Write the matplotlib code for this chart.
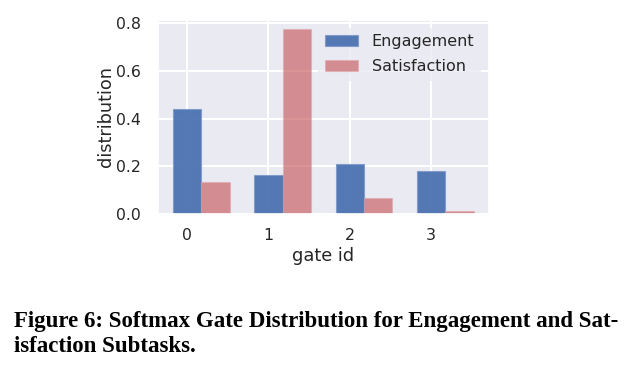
import matplotlib
matplotlib.use("Agg")
import matplotlib.pyplot as plt
import seaborn as sns
import numpy as np

gate_ids = [0, 1, 2, 3]
engagement = [0.44, 0.163, 0.211, 0.179]
satisfaction = [0.135, 0.775, 0.067, 0.012]
series_labels = ["Engagement", "Satisfaction"]
caption_lines = ["Figure 6: Softmax Gate Distribution for Engagement and Sat-",
                 "isfaction Subtasks."]

sns.set_theme(style="darkgrid")
plt.rcParams['font.family'] = ['DejaVu Sans']

fig = plt.figure(figsize=(6.34, 3.79), dpi=100)
ax = fig.add_axes([0.249, 0.4354, 0.522, 0.5118])

x = np.arange(len(gate_ids))
w = 0.35
ax.bar(x, engagement, w, color="#4C72B0", alpha=0.95, edgecolor="#7F9BCB",
       linewidth=0.8, label=series_labels[0])
ax.bar(x + w, satisfaction, w, color="#C44E52", alpha=0.6, edgecolor="#E0A8AB",
       linewidth=0.8, label=series_labels[1])

ax.set_xticks(x)
ax.set_xticklabels([str(g) for g in gate_ids])
ax.set_yticks([0.0, 0.2, 0.4, 0.6, 0.8])
ax.set_yticklabels(["0.0", "0.2", "0.4", "0.6", "0.8"])
ax.tick_params(axis='both', labelsize=11.3, colors="#262626", length=0)
ax.tick_params(axis='y', pad=12)
ax.tick_params(axis='x', pad=10)
ax.set_xlabel("gate id", fontsize=12.8, color="#262626", labelpad=3)
ax.set_ylabel("distribution", fontsize=12.8, color="#262626", labelpad=1)
ax.grid(True, color="white", linewidth=1.5)
ax.set_axisbelow(True)

leg = ax.legend(loc="upper right", fontsize=11.5, frameon=True,
                facecolor="#EAEAF2", edgecolor="none", framealpha=0.8,
                handlelength=2.06, handletextpad=0.88, labelspacing=0.62,
                borderaxespad=0.5)
for t in leg.get_texts():
    t.set_color("#262626")

fig.text(0.022, 1 - 327 / 379, caption_lines[0], fontsize=16.5,
         fontweight="bold", family=["Liberation Serif"], color="black",
         va="baseline", ha="left")
fig.text(0.022, 1 - 352 / 379, caption_lines[1], fontsize=16.5,
         fontweight="bold", family=["Liberation Serif"], color="black",
         va="baseline", ha="left")

fig.savefig("out.png", dpi=100)
